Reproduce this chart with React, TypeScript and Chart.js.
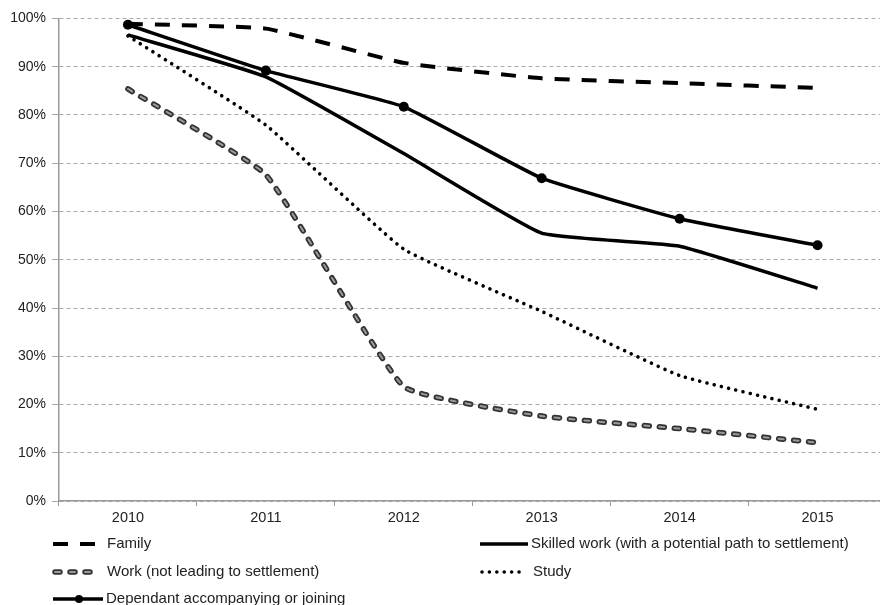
import React, { useEffect, useRef } from "react";
import { Chart, registerables } from "chart.js";

Chart.register(...registerables);

const years = ["2010", "2011", "2012", "2013", "2014", "2015"];
const familyValues = [98.9, 97.9, 90.8, 87.6, 86.6, 85.6];
const skilledValues = [96.6, 87.9, 72.0, 55.5, 52.8, 44.1];
const workValues = [85.4, 67.6, 23.7, 17.6, 15.0, 12.1];
const studyValues = [96.4, 77.9, 52.2, 39.3, 26.0, 19.0];
const dependantValues = [98.7, 89.2, 81.7, 66.9, 58.5, 53.0];
const yTickValues = [0, 10, 20, 30, 40, 50, 60, 70, 80, 90, 100];

const FONT = "'Liberation Sans', Arial, sans-serif";

const legendPlugin = {
  id: "customLegend",
  afterDraw(chart: any) {
    const ctx = chart.ctx as CanvasRenderingContext2D;
    const items = [
      { idx: 0, x: 53, y: 544, len: 44, tx: 107 },
      { idx: 1, x: 480, y: 544, len: 48, tx: 531 },
      { idx: 2, x: 55, y: 572, len: 42, tx: 107 },
      { idx: 4, x: 482, y: 572, len: 42, tx: 533 },
      { idx: 5, x: 53, y: 599, len: 50, tx: 106 },
    ];
    ctx.save();
    for (const it of items) {
      const ds: any = chart.data.datasets[it.idx];
      const drawLine = (d: any) => {
        ctx.save();
        ctx.beginPath();
        ctx.lineWidth = d.borderWidth;
        ctx.strokeStyle = d.borderColor;
        ctx.setLineDash(d.borderDash || []);
        ctx.lineCap = d.borderCapStyle || "butt";
        ctx.moveTo(it.x, it.y);
        ctx.lineTo(it.x + it.len, it.y);
        ctx.stroke();
        ctx.restore();
      };
      drawLine(ds);
      if (it.idx === 2) drawLine(chart.data.datasets[3]);
      if (ds.pointRadius > 0) {
        ctx.beginPath();
        ctx.fillStyle = "#000";
        ctx.arc(it.x + it.len / 2 + 1, it.y, 4, 0, Math.PI * 2);
        ctx.fill();
      }
      ctx.fillStyle = "#222";
      ctx.font = `15px ${FONT}`;
      ctx.textBaseline = "middle";
      ctx.textAlign = "left";
      ctx.fillText(ds.label, it.tx, it.y);
    }
    ctx.restore();
  },
};

export default function App() {
  const ref = useRef<HTMLCanvasElement | null>(null);
  useEffect(() => {
    if (!ref.current) return;
    const tension = 0.12;
    const chart = new Chart(ref.current, {
      type: "line",
      data: {
        labels: years,
        datasets: [
          {
            label: "Family",
            data: familyValues,
            borderColor: "#000",
            borderWidth: 4,
            borderDash: [15, 12],
            pointRadius: 0,
            tension,
            order: 1,
          },
          {
            label: "Skilled work (with a potential path to settlement)",
            data: skilledValues,
            borderColor: "#000",
            borderWidth: 3.5,
            pointRadius: 0,
            tension,
            order: 1,
          },
          {
            label: "Work (not leading to settlement)",
            data: workValues,
            borderColor: "#333",
            borderWidth: 5.5,
            borderDash: [5, 10],
            borderCapStyle: "round",
            pointRadius: 0,
            tension,
            order: 2,
          },
          {
            label: "Work inner",
            data: workValues,
            borderColor: "#9a9a9a",
            borderWidth: 2,
            borderDash: [5, 10],
            borderCapStyle: "round",
            pointRadius: 0,
            tension,
            order: 0,
          },
          {
            label: "Study",
            data: studyValues,
            borderColor: "#000",
            borderWidth: 3.6,
            borderDash: [0.01, 7.4],
            borderCapStyle: "round",
            pointRadius: 0,
            tension,
            order: 1,
          },
          {
            label: "Dependant accompanying or joining",
            data: dependantValues,
            borderColor: "#000",
            backgroundColor: "#000",
            borderWidth: 3.5,
            pointRadius: 5,
            pointBackgroundColor: "#000",
            pointBorderWidth: 0,
            tension,
            order: 1,
          },
        ],
      },
      options: {
        responsive: false,
        animation: false,
        maintainAspectRatio: false,
        layout: { padding: { left: 0, right: 13.5, top: 18.5, bottom: 0 } },
        plugins: { legend: { display: false }, tooltip: { enabled: false } },
        scales: {
          x: {
            offset: true,
            grid: {
              offset: true,
              drawOnChartArea: false,
              drawTicks: true,
              tickLength: 5,
              color: "#999",
            },
            border: { display: true, color: "#999", width: 1.5 },
            ticks: {
              color: "#222",
              font: { family: FONT, size: 14.5 },
              padding: 3,
              maxRotation: 0,
            },
            afterFit(scale: any) {
              scale.height = 104;
            },
          },
          y: {
            min: 0,
            max: 100,
            afterBuildTicks(scale: any) {
              scale.ticks = yTickValues.map((v) => ({ value: v }));
            },
            grid: {
              color: "#aaa",
              tickLength: 7,
              lineWidth: 1,
            },
            border: { display: true, color: "#999", width: 1.5, dash: [4, 3] },
            ticks: {
              color: "#222",
              font: { family: FONT, size: 14 },
              padding: 6,
              callback: (v: any) => `${v}%`,
            },
            afterFit(scale: any) {
              scale.width = 59;
            },
          },
        },
      },
      plugins: [legendPlugin],
    });
    return () => chart.destroy();
  }, []);
  return (
    <div
      style={{
        position: "fixed",
        left: 0,
        top: 0,
        width: 880,
        height: 605,
        overflow: "hidden",
        background: "#fff",
      }}
    >
      <canvas ref={ref} width={900} height={605} style={{ display: "block", width: 900, height: 605 }} />
    </div>
  );
}
